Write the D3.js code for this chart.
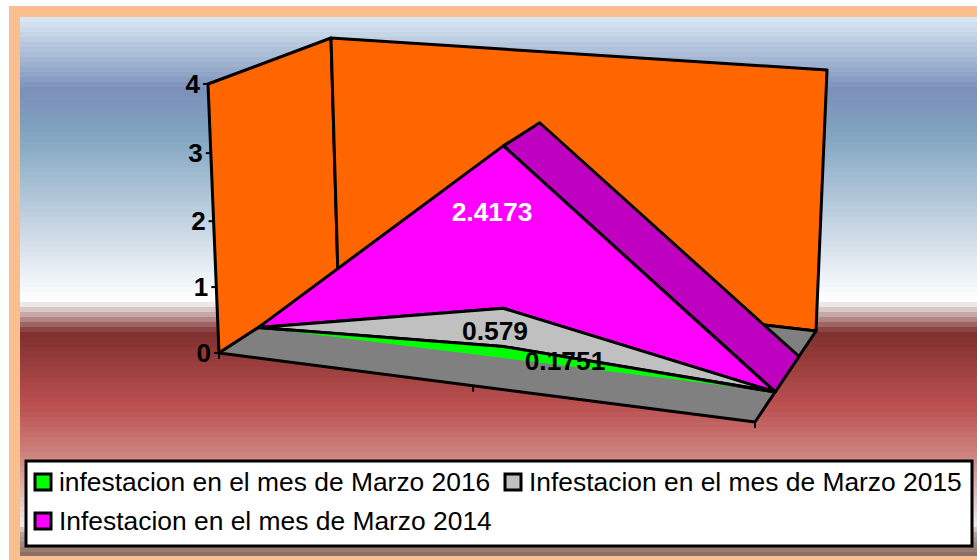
<!DOCTYPE html>
<html>
<head>
<meta charset="utf-8">
<script src="https://cdn.jsdelivr.net/npm/d3@7/dist/d3.min.js"></script>
<style>
	html, body { margin: 0; padding: 0; background: #fff; overflow: hidden; }
	svg { display: block; }
	text { font-family: "Liberation Sans", Arial, sans-serif; }
</style>
</head>
<body>
<div id="chart"></div>
<script>
const WIDTH = 977;
const HEIGHT = 560;

const categories = ["", "", ""];
const seriesNames = [
	"infestacion en el mes de Marzo 2016",
	"Infestacion en el mes de Marzo 2015",
	"Infestacion en el mes de Marzo 2014"
];
const values2016 = [0, 0.1751, 0];
const values2015 = [0, 0.579, 0];
const values2014 = [0, 2.4173, 0];
const seriesColors = ["#00ff00", "#c0c0c0", "#ff00ff"];
const valueTicks = [0, 1, 2, 3, 4];

// corners of the 3d box, [x, y] on screen: f/b front/back, l/r left/right, 0/1 floor/top
const BOX = {
	fl0: [219, 353], fl1: [208, 84], fr0: [755, 422], fr1: [766, 130],
	bl0: [338, 276], bl1: [331, 38], br0: [816, 331], br1: [827, 70]
};
const ROW_FRONT = 0.33;
const ROW_BACK = 0.72;

// background bands, top to bottom
const bandY = [17, 23, 90, 135, 300, 306, 332, 405, 460, 526, 531, 556];
const bandC = ["#dceaf6", "#d3e2ef", "#7a90b9", "#82a5c1", "#ffffff", "#e6dcdc", "#7f2f2f", "#bb5050", "#d08a84", "#f0ecea", "#b8aca2", "#8a6a60"];

const xScale = d3.scaleLinear().domain([0, 1, 2]).range([0, 0.474, 1]);
// slight perspective along the value axis
const yScale = d3.scaleLinear().domain(valueTicks).range([0, 0.245, 0.49, 0.743, 1]);
const bg = d3.scaleLinear().domain(bandY).range(bandC).interpolate(d3.interpolateRgb);

// trilinear position inside the box
function project(cat, value, depth) {
	const u = xScale(cat), v = yScale(value);
	const mix = (a, b, t) => [a[0] + (b[0] - a[0]) * t, a[1] + (b[1] - a[1]) * t];
	const f = mix(mix(BOX.fl0, BOX.fr0, u), mix(BOX.fl1, BOX.fr1, u), v);
	const b = mix(mix(BOX.bl0, BOX.br0, u), mix(BOX.bl1, BOX.br1, u), v);
	return mix(f, b, depth);
}

const svg = d3.select("#chart").append("svg")
	.attr("width", WIDTH)
	.attr("height", HEIGHT);

// frame and banded background
svg.append("rect").attr("x", 9).attr("y", 6).attr("width", WIDTH - 9).attr("height", HEIGHT - 6).attr("fill", "#f9bf8f");
svg.append("g").selectAll("rect")
	.data(d3.range(17, 556, 5))
	.join("rect")
	.attr("x", 20)
	.attr("y", d => d)
	.attr("width", WIDTH - 20)
	.attr("height", d => Math.min(5, 556 - d))
	.attr("fill", d => bg(d + 2));

function poly(points, fill, stroke) {
	return svg.append("path")
		.attr("d", d3.line()(points) + "Z")
		.attr("fill", fill)
		.attr("stroke", stroke || "none")
		.attr("stroke-width", 3)
		.attr("stroke-linejoin", "round");
}

// walls and floor
poly([BOX.fl0, BOX.fl1, BOX.bl1, BOX.bl0], "#ff6600", "#000");
poly([BOX.bl0, BOX.bl1, BOX.br1, BOX.br0], "#ff6600", "#000");
poly([BOX.fl0, BOX.bl0, BOX.br0, BOX.fr0], "#808080", "#000");

// stacked areas
const stack = d3.stack().keys([0, 1, 2]).value((d, k) => d[k]);
const table = categories.map((c, i) => [values2016[i], values2015[i], values2014[i]]);
const layers = stack(table);
const topLayer = layers[2];

// side of the top area, going back in depth
poly([
	project(1, topLayer[1][1], ROW_FRONT),
	project(2, topLayer[2][1], ROW_FRONT),
	project(2, topLayer[2][1], ROW_BACK),
	project(1, topLayer[1][1], ROW_BACK)
], "#c000c0", "#000");

[2, 1, 0].forEach(k => {
	const layer = layers[k];
	const upper = layer.map((d, i) => project(i, d[1], ROW_FRONT));
	const lower = layer.map((d, i) => project(i, d[0], ROW_FRONT)).reverse();
	poly(upper.concat(lower), seriesColors[k], k === 0 ? null : "#000");
	if (k === 0) {
		svg.append("path").attr("d", d3.line()(upper)).attr("fill", "none").attr("stroke", "#000").attr("stroke-width", 3);
	}
});

// value axis
const axis = svg.append("g");
valueTicks.forEach(t => {
	const p = project(0, t, 0);
	axis.append("line")
		.attr("x1", p[0] - 5).attr("x2", p[0])
		.attr("y1", p[1]).attr("y2", p[1])
		.attr("stroke", "#000").attr("stroke-width", 2);
	axis.append("text")
		.attr("x", p[0] - 8)
		.attr("y", p[1])
		.attr("dy", "0.35em")
		.attr("text-anchor", "end")
		.style("font-size", "26px")
		.style("font-weight", "bold")
		.text(t);
});

// category ticks on the front floor edge
categories.forEach((c, i) => {
	const p = project(i, 0, 0);
	svg.append("line")
		.attr("x1", p[0]).attr("x2", p[0])
		.attr("y1", p[1]).attr("y2", p[1] + 6)
		.attr("stroke", "#000").attr("stroke-width", 2);
});

// data labels
const labels = [
	{ text: "2.4173", x: 492, y: 212, fill: "#fff" },
	{ text: "0.579", x: 495, y: 331, fill: "#000" },
	{ text: "0.1751", x: 565, y: 361, fill: "#000" }
];
svg.append("g").selectAll("text")
	.data(labels)
	.join("text")
	.attr("x", d => d.x)
	.attr("y", d => d.y)
	.attr("dy", "0.35em")
	.attr("text-anchor", "middle")
	.attr("fill", d => d.fill)
	.style("font-size", "26.4px")
	.style("font-weight", "bold")
	.text(d => d.text);

// Legend
svg.append("rect")
	.attr("x", 26).attr("y", 461).attr("width", 946).attr("height", 85)
	.attr("fill", "#fff").attr("stroke", "#000").attr("stroke-width", 3);
const legendPos = [[35, 474], [505, 474], [35, 513]];
seriesNames.forEach((name, i) => {
	const row = svg.append("g").attr("transform", `translate(${legendPos[i]})`);
	row.append("rect")
		.attr("width", 16).attr("height", 16)
		.attr("fill", seriesColors[i]).attr("stroke", "#000").attr("stroke-width", 3);
	row.append("text")
		.attr("x", 24)
		.attr("y", 8)
		.attr("dy", "0.35em")
		.style("font-size", "26.4px")
		.text(name);
});
</script>
</body>
</html>
